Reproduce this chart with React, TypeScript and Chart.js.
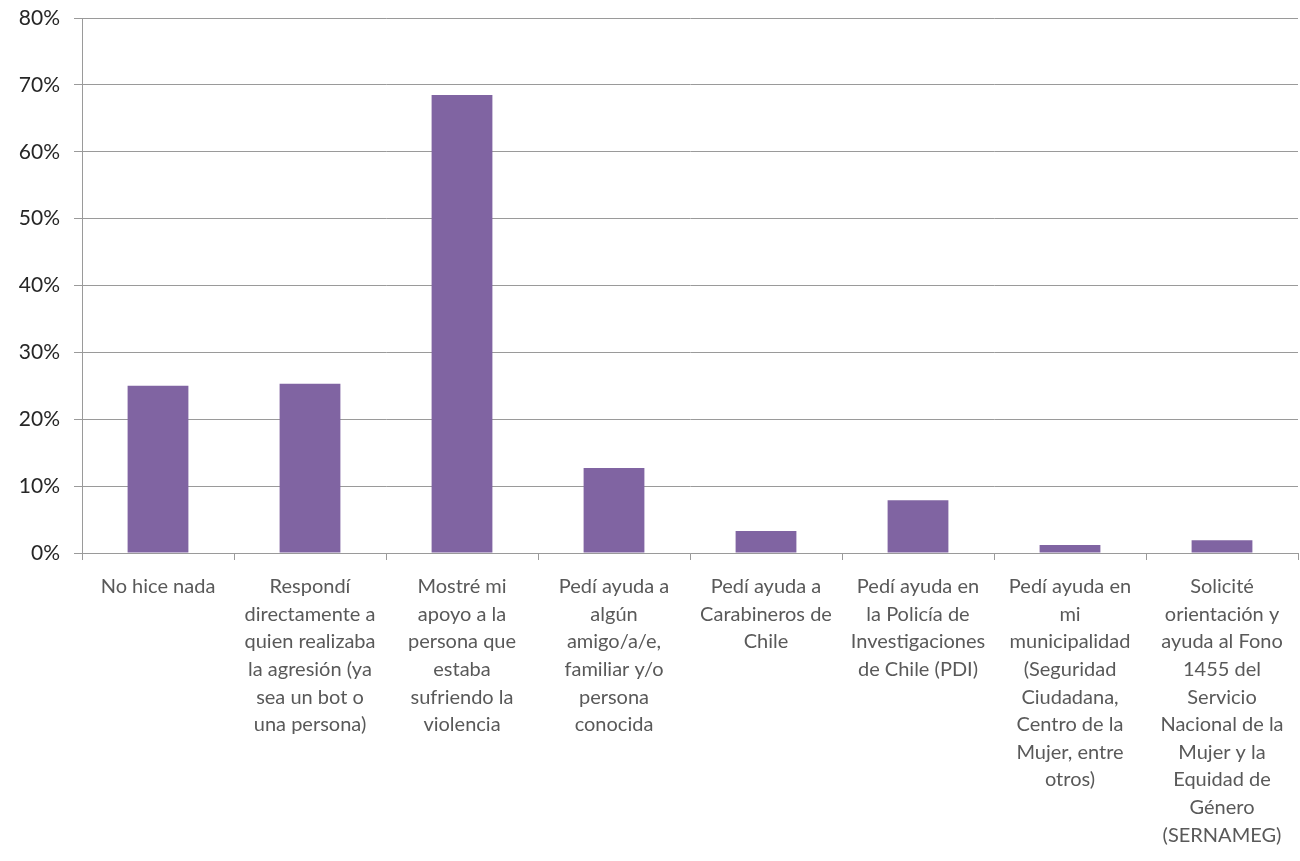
import React, { useEffect, useRef } from "react";
import { Chart, registerables } from "chart.js";

Chart.register(...registerables);

const categories: string[][] = [
  ["No hice nada"],
  ["Respondí", "directamente a", "quien realizaba", "la agresión (ya", "sea un bot o", "una persona)"],
  ["Mostré mi", "apoyo a la", "persona que", "estaba", "sufriendo la", "violencia"],
  ["Pedí ayuda a", "algún", "amigo/a/e,", "familiar y/o", "persona", "conocida"],
  ["Pedí ayuda a", "Carabineros de", "Chile"],
  ["Pedí ayuda en", "la Policía de", "Investigaciones", "de Chile (PDI)"],
  ["Pedí ayuda en", "mi", "municipalidad", "(Seguridad", "Ciudadana,", "Centro de la", "Mujer, entre", "otros)"],
  ["Solicité", "orientación y", "ayuda al Fono", "1455 del", "Servicio", "Nacional de la", "Mujer y la", "Equidad de", "Género", "(SERNAMEG)"],
];

const values: number[] = [25.0, 25.3, 68.5, 12.7, 3.3, 7.9, 1.2, 1.9];

const yMin = 0;
const yMax = 80;
const yStep = 10;

export default function App() {
  const ref = useRef<HTMLCanvasElement | null>(null);

  useEffect(() => {
    if (!ref.current) return;
    const family = "Lato, 'Liberation Sans', sans-serif";
    const chart = new Chart(ref.current, {
      type: "bar",
      data: {
        labels: categories,
        datasets: [
          {
            data: values,
            backgroundColor: "#8064A2",
            barPercentage: 0.4,
            categoryPercentage: 1,
          },
        ],
      },
      options: {
        animation: false,
        responsive: false,
        maintainAspectRatio: false,
        layout: { padding: { top: 18, right: 2, left: 0, bottom: 0 } },
        plugins: { legend: { display: false }, tooltip: { enabled: false } },
        scales: {
          x: {
            grid: {
              offset: true,
              drawOnChartArea: false,
              drawTicks: true,
              tickLength: 7,
              color: "#9a9a9a",
            },
            border: { display: true, color: "#9a9a9a" },
            ticks: {
              autoSkip: false,
              maxRotation: 0,
              minRotation: 0,
              color: "#595959",
              font: { family, size: 20, lineHeight: 1.38 },
              padding: 13,
            },
            afterFit: (s: any) => {
              s.height = 861 - 553;
              s.paddingLeft = 0;
              s.paddingRight = 0;
            },
          },
          y: {
            min: yMin,
            max: yMax,
            grid: {
              color: "#9a9a9a",
              tickLength: 8,
              drawTicks: true,
            },
            border: { display: true, color: "#9a9a9a" },
            ticks: {
              stepSize: yStep,
              color: "#262626",
              font: { family, size: 21 },
              padding: 14,
              callback: (v: any) => `${v}%`,
            },
            afterFit: (s: any) => {
              s.width = 82;
              s.paddingTop = 0;
              s.paddingBottom = 0;
            },
          },
        },
      },
    });
    return () => chart.destroy();
  }, []);

  return (
    <div style={{ position: "absolute", left: 0, top: 0, width: 1300, height: 861 }}>
      <canvas ref={ref} width={1300} height={861} style={{ width: 1300, height: 861 }} />
    </div>
  );
}
